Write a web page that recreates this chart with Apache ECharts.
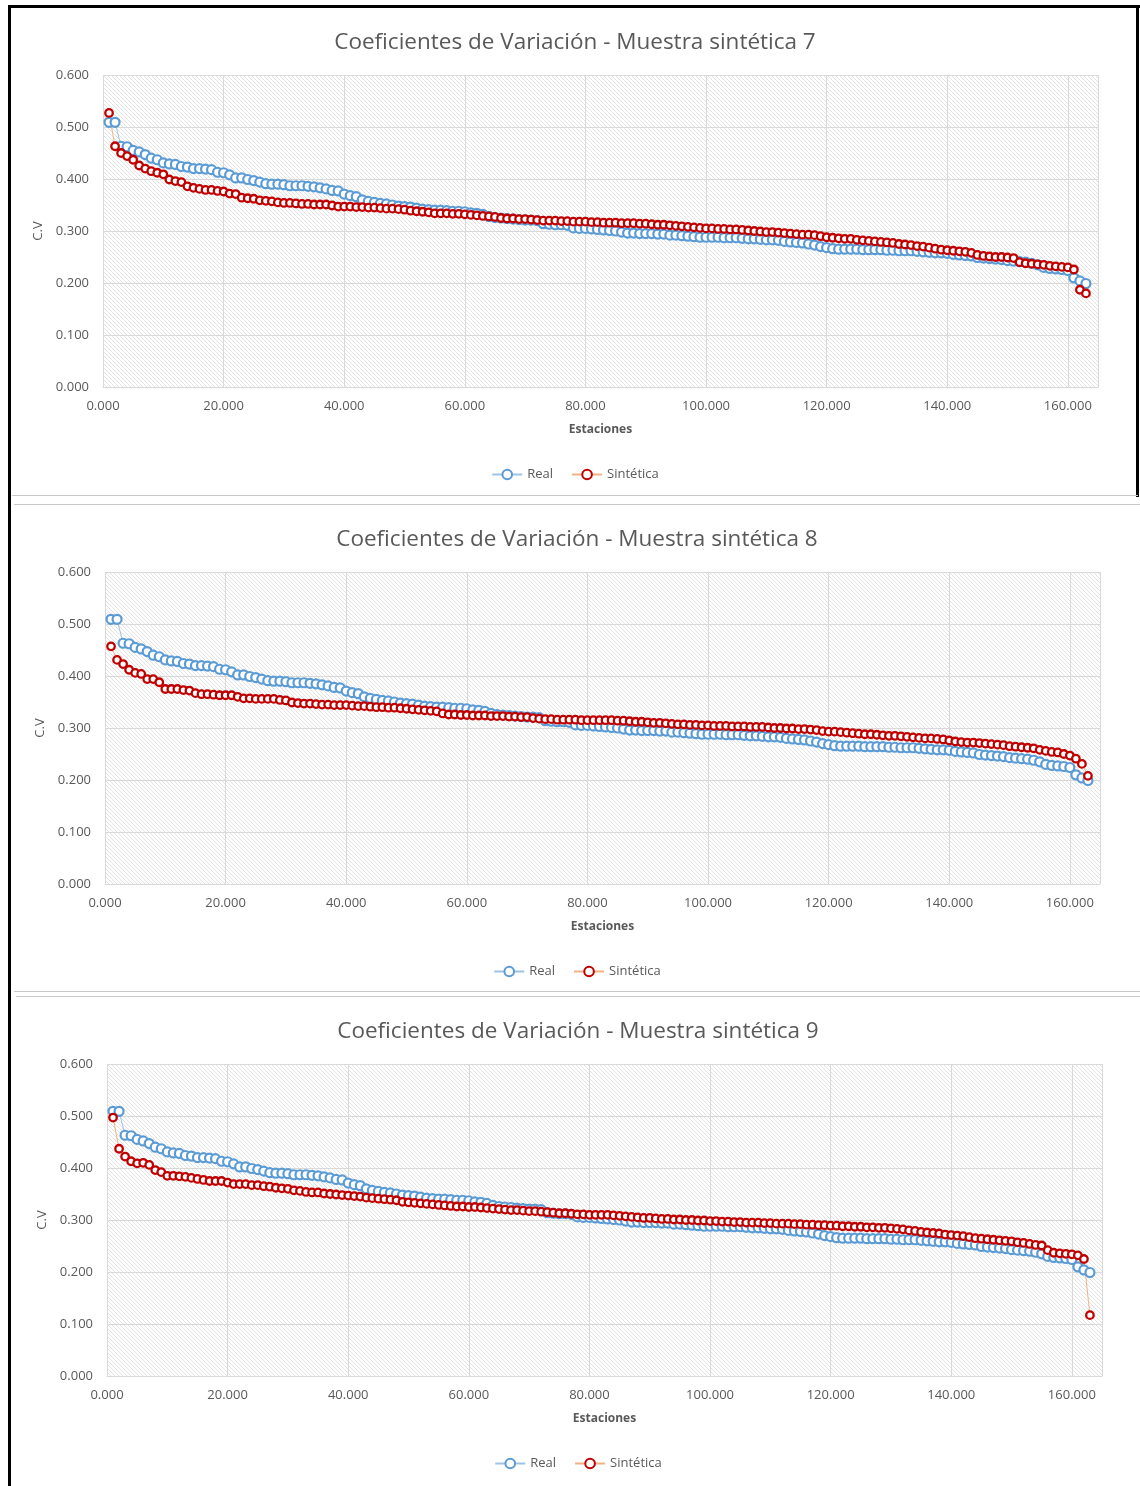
<!DOCTYPE html>
<html>
<head>
<meta charset="utf-8">
<script src="https://cdn.jsdelivr.net/npm/echarts@6/dist/echarts.min.js"></script>
<style>
  html, body { margin: 0; padding: 0; background: #fff; }
  body { width: 1140px; height: 1486px; position: relative; overflow: hidden; }
  .frame { position: absolute; left: 8px; top: 5px; width: 1132px; height: 1481px;
           border-top: 3px solid #000; border-left: 3px solid #000; box-sizing: border-box; }
  .rline { position: absolute; left: 1136px; top: 5px; width: 3px; height: 492px; background: #000; }
  .panel { position: absolute; box-sizing: border-box; }
</style>
</head>
<body>
<div class="frame"></div>
<div class="rline"></div>
<div id="p1" class="panel" style="left:12px;top:8px;width:1126px;height:488px;border-bottom:1px solid #c8c8c8;"></div>
<div id="p2" class="panel" style="left:14px;top:504px;width:1126px;height:488px;border-top:1px solid #c8c8c8;border-bottom:1px solid #c8c8c8;"></div>
<div id="p3" class="panel" style="left:16px;top:996px;width:1124px;height:490px;border-top:1px solid #c8c8c8;"></div>
<script>
// ---- Data (coefficients of variation, stations 1..163) ----
const real = [
  0.509,0.509,0.463,0.462,0.455,0.452,0.447,0.440,0.437,0.431,
  0.429,0.428,0.424,0.423,0.420,0.420,0.419,0.418,0.413,0.412,
  0.408,0.402,0.402,0.399,0.397,0.394,0.391,0.390,0.390,0.389,
  0.387,0.387,0.387,0.386,0.385,0.383,0.381,0.378,0.377,0.371,
  0.368,0.366,0.360,0.357,0.355,0.353,0.352,0.350,0.348,0.347,
  0.346,0.344,0.342,0.341,0.340,0.340,0.339,0.338,0.338,0.337,
  0.335,0.334,0.332,0.328,0.326,0.325,0.324,0.323,0.322,0.321,
  0.321,0.320,0.314,0.313,0.312,0.312,0.311,0.306,0.305,0.305,
  0.304,0.303,0.302,0.301,0.300,0.298,0.296,0.296,0.295,0.295,
  0.295,0.294,0.294,0.292,0.292,0.291,0.290,0.289,0.288,0.288,
  0.288,0.288,0.287,0.287,0.287,0.286,0.285,0.285,0.284,0.283,
  0.283,0.282,0.280,0.279,0.278,0.277,0.275,0.273,0.270,0.268,
  0.266,0.265,0.265,0.265,0.265,0.264,0.264,0.264,0.264,0.263,
  0.263,0.262,0.262,0.262,0.261,0.260,0.259,0.258,0.258,0.257,
  0.255,0.254,0.253,0.252,0.249,0.248,0.247,0.246,0.245,0.243,
  0.242,0.241,0.240,0.238,0.235,0.230,0.228,0.227,0.226,0.224,
  0.210,0.204,0.199
];
const synth7 = [
  0.527,0.463,0.450,0.444,0.437,0.426,0.420,0.415,0.412,0.409,
  0.399,0.396,0.394,0.386,0.383,0.381,0.379,0.379,0.377,0.376,
  0.372,0.371,0.364,0.363,0.362,0.359,0.358,0.357,0.355,0.354,
  0.354,0.353,0.352,0.352,0.351,0.351,0.351,0.349,0.347,0.347,
  0.347,0.346,0.346,0.345,0.345,0.344,0.343,0.343,0.342,0.341,
  0.339,0.338,0.337,0.336,0.334,0.334,0.334,0.333,0.333,0.332,
  0.331,0.330,0.329,0.328,0.327,0.325,0.324,0.324,0.323,0.323,
  0.322,0.321,0.320,0.320,0.320,0.319,0.319,0.318,0.318,0.318,
  0.317,0.317,0.316,0.316,0.316,0.315,0.315,0.315,0.314,0.314,
  0.313,0.312,0.312,0.311,0.310,0.309,0.308,0.307,0.306,0.305,
  0.305,0.304,0.304,0.303,0.303,0.302,0.301,0.300,0.299,0.298,
  0.298,0.297,0.296,0.295,0.294,0.293,0.293,0.292,0.290,0.288,
  0.287,0.286,0.285,0.285,0.283,0.282,0.281,0.280,0.279,0.278,
  0.277,0.275,0.274,0.273,0.271,0.270,0.268,0.266,0.264,0.263,
  0.262,0.261,0.260,0.258,0.254,0.252,0.251,0.250,0.250,0.249,
  0.248,0.240,0.238,0.237,0.236,0.235,0.233,0.232,0.231,0.230,
  0.226,0.187,0.180
];
const synth8 = [
  0.457,0.431,0.423,0.412,0.406,0.404,0.394,0.394,0.388,0.375,
  0.375,0.375,0.373,0.372,0.367,0.365,0.365,0.364,0.363,0.363,
  0.363,0.360,0.357,0.357,0.356,0.356,0.356,0.356,0.354,0.353,
  0.349,0.348,0.347,0.347,0.346,0.345,0.345,0.344,0.344,0.344,
  0.343,0.342,0.342,0.341,0.340,0.340,0.339,0.339,0.338,0.337,
  0.336,0.335,0.334,0.333,0.332,0.328,0.326,0.326,0.325,0.325,
  0.324,0.324,0.324,0.323,0.323,0.323,0.322,0.322,0.321,0.321,
  0.319,0.318,0.317,0.317,0.316,0.316,0.316,0.316,0.315,0.315,
  0.315,0.315,0.315,0.315,0.314,0.314,0.313,0.312,0.312,0.311,
  0.310,0.310,0.309,0.308,0.307,0.307,0.306,0.306,0.305,0.305,
  0.304,0.304,0.304,0.303,0.303,0.303,0.302,0.302,0.302,0.301,
  0.300,0.300,0.299,0.299,0.298,0.298,0.297,0.296,0.294,0.293,
  0.293,0.292,0.291,0.290,0.289,0.288,0.288,0.287,0.286,0.285,
  0.285,0.284,0.283,0.282,0.281,0.280,0.280,0.279,0.278,0.276,
  0.274,0.273,0.272,0.272,0.271,0.270,0.269,0.268,0.267,0.265,
  0.264,0.263,0.262,0.261,0.258,0.256,0.254,0.253,0.250,0.247,
  0.241,0.231,0.208
];
const synth9 = [
  0.497,0.437,0.422,0.413,0.409,0.410,0.406,0.396,0.392,0.385,
  0.385,0.384,0.383,0.381,0.379,0.377,0.375,0.375,0.375,0.372,
  0.369,0.369,0.369,0.367,0.367,0.365,0.364,0.362,0.361,0.360,
  0.357,0.356,0.354,0.353,0.353,0.351,0.350,0.349,0.348,0.347,
  0.346,0.345,0.343,0.342,0.341,0.340,0.339,0.338,0.335,0.334,
  0.333,0.332,0.331,0.330,0.329,0.328,0.327,0.326,0.326,0.325,
  0.325,0.324,0.323,0.322,0.321,0.320,0.319,0.319,0.318,0.317,
  0.317,0.316,0.315,0.314,0.313,0.313,0.312,0.311,0.311,0.310,
  0.310,0.310,0.310,0.309,0.308,0.307,0.306,0.305,0.304,0.304,
  0.303,0.302,0.302,0.301,0.301,0.300,0.300,0.299,0.299,0.298,
  0.298,0.297,0.297,0.296,0.296,0.295,0.295,0.295,0.294,0.294,
  0.293,0.293,0.293,0.292,0.292,0.291,0.291,0.290,0.290,0.289,
  0.289,0.288,0.288,0.287,0.287,0.286,0.286,0.285,0.285,0.284,
  0.283,0.282,0.280,0.279,0.277,0.276,0.275,0.274,0.272,0.271,
  0.270,0.269,0.267,0.265,0.264,0.263,0.262,0.261,0.260,0.259,
  0.257,0.256,0.254,0.252,0.251,0.242,0.237,0.236,0.235,0.234,
  0.232,0.225,0.117
];
const titles = [
  'Coeficientes de Variación - Muestra sintética 7',
  'Coeficientes de Variación - Muestra sintética 8',
  'Coeficientes de Variación - Muestra sintética 9'
];
const seriesNames = ['Real', 'Sintética'];
const xAxisName = 'Estaciones';
const yAxisName = 'C.V';

// ---- Styling helpers ----
function hatchCanvas() {
  const c = document.createElement('canvas');
  c.width = 4; c.height = 4;
  const g = c.getContext('2d');
  g.fillStyle = '#ffffff'; g.fillRect(0, 0, 4, 4);
  g.fillStyle = '#e3e3e3';
  for (let i = 0; i < 4; i++) g.fillRect(i, i, 1, 1);
  return c;
}
const hatch = hatchCanvas();
const TXT = '#595959';
const FONT = '"Open Sans", "Noto Sans", sans-serif';

function toPairs(arr) { return arr.map((v, i) => [i + 1, v]); }

function build(el, title, synth) {
  const chart = echarts.init(el, null, { renderer: 'canvas' });
  chart.setOption({
    animation: false,
    textStyle: { fontFamily: FONT, color: TXT },
    title: {
      text: title, left: 'center', top: 18,
      textStyle: { fontSize: 22.5, fontWeight: 'normal', color: TXT, fontFamily: FONT }
    },
    legend: {
      data: seriesNames, left: 'center', top: 455,
      itemWidth: 30, itemHeight: 12, itemGap: 18,
      textStyle: { fontSize: 13, color: TXT, fontFamily: FONT }
    },
    grid: {
      left: 91, top: 67, width: 995, height: 312,
      show: true, borderWidth: 0,
      backgroundColor: { image: hatch, repeat: 'repeat' }
    },
    xAxis: {
      type: 'value', min: 0, max: 165, interval: 20,
      name: xAxisName, nameLocation: 'middle', nameGap: 37,
      nameTextStyle: { fontSize: 12, fontWeight: 'bold', color: TXT, fontFamily: FONT },
      axisLine: { show: true, lineStyle: { color: '#d9d9d9' } },
      axisTick: { show: false },
      axisLabel: { showMaxLabel: false, margin: 13, fontSize: 13, color: TXT, fontFamily: FONT,
                   formatter: v => v.toFixed(3) },
      splitLine: { show: true, lineStyle: { color: '#d9d9d9', width: 1 } }
    },
    yAxis: {
      type: 'value', min: 0, max: 0.6, interval: 0.1,
      name: yAxisName, nameLocation: 'middle', nameGap: 52,
      nameTextStyle: { fontSize: 13, color: TXT, fontFamily: FONT },
      axisLine: { show: false }, axisTick: { show: false },
      axisLabel: { margin: 14, fontSize: 13, color: TXT, fontFamily: FONT,
                   formatter: v => v.toFixed(3) },
      splitLine: { show: true, lineStyle: { color: '#d9d9d9', width: 1 } }
    },
    series: [
      {
        name: seriesNames[0], type: 'line', data: toPairs(real),
        symbol: 'circle', symbolSize: 9, showAllSymbol: true,
        lineStyle: { color: '#9dc3e6', width: 1 },
        itemStyle: { color: '#ffffff', borderColor: '#5b9bd5', borderWidth: 2.2 }
      },
      {
        name: seriesNames[1], type: 'line', data: toPairs(synth),
        symbol: 'circle', symbolSize: 7.5, showAllSymbol: true,
        lineStyle: { color: '#f4b183', width: 1 },
        itemStyle: { color: '#ffffff', borderColor: '#c00000', borderWidth: 2.3 }
      }
    ]
  });
}
build(document.getElementById('p1'), titles[0], synth7);
build(document.getElementById('p2'), titles[1], synth8);
build(document.getElementById('p3'), titles[2], synth9);
</script>
</body>
</html>
